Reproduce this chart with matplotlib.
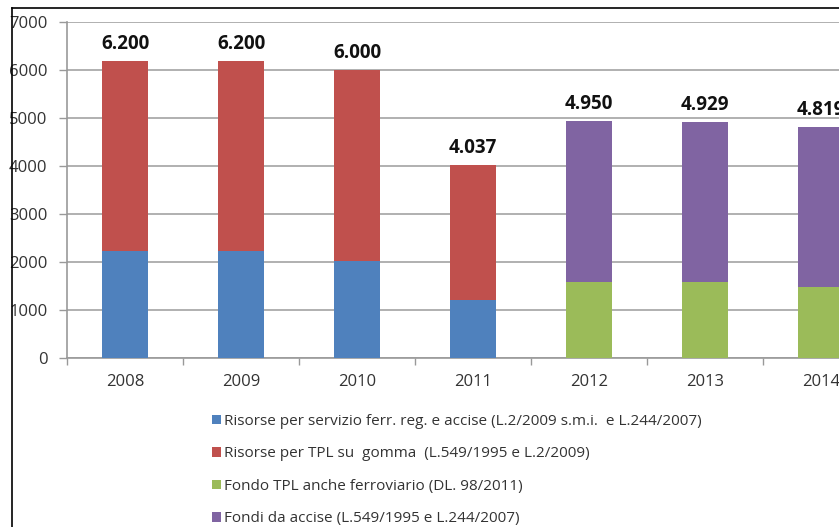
import matplotlib
matplotlib.use("Agg")
import matplotlib.pyplot as plt
from matplotlib.lines import Line2D
from matplotlib.patches import Patch

years = ["2008", "2009", "2010", "2011", "2012", "2013", "2014"]
totals = [6200, 6200, 6000, 4037, 4950, 4929, 4819]
total_labels = ["6.200", "6.200", "6.000", "4.037", "4.950", "4.929", "4.819"]
ferr = [2240, 2240, 2030, 1215, 0, 0, 0]
gomma = [3960, 3960, 3970, 2822, 0, 0, 0]
fondo_tpl = [0, 0, 0, 0, 1600, 1600, 1480]
accise = [0, 0, 0, 0, 3350, 3329, 3339]

legend_labels = [
    "Risorse per servizio ferr. reg. e accise (L.2/2009 s.m.i.  e L.244/2007)",
    "Risorse per TPL su  gomma  (L.549/1995 e L.2/2009)",
    "Fondo TPL anche ferroviario (DL. 98/2011)",
    "Fondi da accise (L.549/1995 e L.244/2007)",
]
colors = ["#4F81BD", "#C0504D", "#9BBB59", "#8064A2"]

plt.rcParams['font.family'] = ['Open Sans', 'DejaVu Sans']

W, H = 839, 527
fig = plt.figure(figsize=(W / 100, H / 100), dpi=100)
ax = fig.add_axes([67 / W, (H - 358.3) / H, 812 / W, 336 / H])

x = list(range(len(years)))
bw = 0.39
ax.bar(x, ferr, bw, color=colors[0], zorder=3)
ax.bar(x, gomma, bw, bottom=ferr, color=colors[1], zorder=3)
ax.bar(x, fondo_tpl, bw, color=colors[2], zorder=3)
ax.bar(x, accise, bw, bottom=fondo_tpl, color=colors[3], zorder=3)

for xi, t, lab in zip(x, totals, total_labels):
    ax.annotate(lab, (xi, t), xytext=(0, 5), textcoords="offset points",
                ha="center", va="bottom", fontsize=13.5, fontweight="bold",
                color="#111111", annotation_clip=False)

ax.set_xlim(-0.5, len(years) - 0.5)
ax.set_ylim(0, 7000)
ax.set_yticks(range(0, 7001, 1000))
ax.set_xticks(x)
ax.set_xticklabels(years)
ax.set_xticks([i - 0.5 for i in range(len(years) + 1)], minor=True)
ax.tick_params(axis="x", which="major", length=0, pad=11, labelsize=12, labelcolor="#333333")
ax.tick_params(axis="x", which="minor", length=5, width=1, color="#999999", direction="out")
ax.tick_params(axis="y", length=6, width=1, color="#999999", pad=8, labelsize=12, labelcolor="#333333")
ax.grid(axis="y", color="#aaaaaa", linewidth=1.3, zorder=0)
for s in ["top", "right"]:
    ax.spines[s].set_visible(False)
for s in ["left", "bottom"]:
    ax.spines[s].set_color("#999999")
    ax.spines[s].set_linewidth(1.2)

handles = [Patch(facecolor=c, edgecolor="none") for c in colors]
fig.legend(handles, legend_labels, loc="upper left",
           bbox_to_anchor=(198 / W, (H - 400) / H), frameon=False,
           fontsize=11.0, handlelength=0.6, handleheight=0.6,
           handletextpad=0.2, labelspacing=1.15, labelcolor="#333333")

# outer border (cropped screenshot)
ytop = 1 - 8 / H
xl = 12 / W
fig.add_artist(Line2D([xl, 1.0], [ytop, ytop], color="black", linewidth=1.2, transform=fig.transFigure))
fig.add_artist(Line2D([xl, xl], [0, ytop], color="black", linewidth=1.2, transform=fig.transFigure))

fig.savefig("out.png", dpi=100)
